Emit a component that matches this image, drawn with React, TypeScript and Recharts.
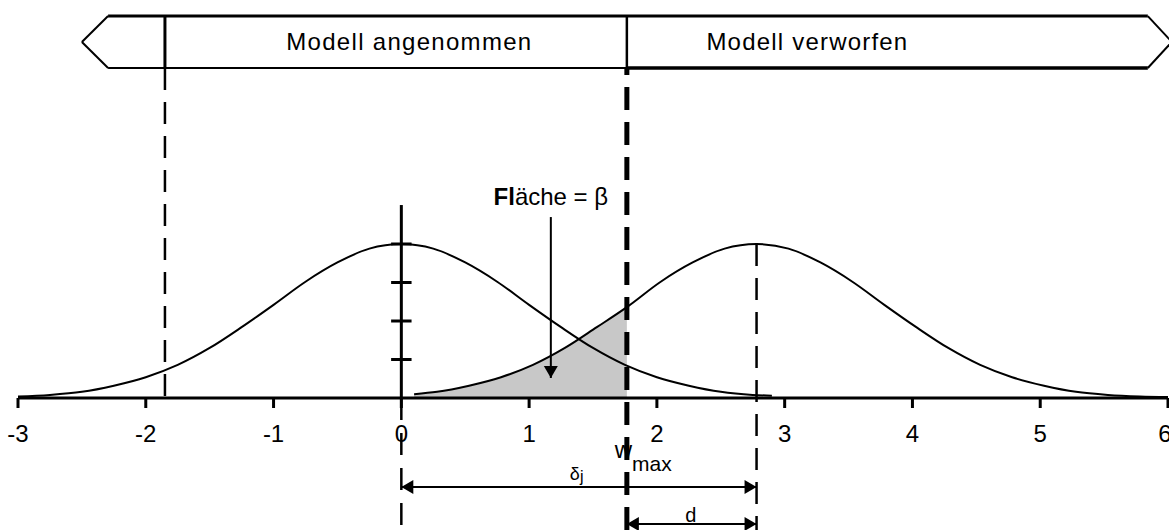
import { Area, ComposedChart, Line, ReferenceDot, ReferenceLine, XAxis, YAxis } from 'recharts'

const xTicks = [-3, -2, -1, 0, 1, 2, 3, 4, 5, 6]
const yTicks = [0.25, 0.5, 0.75, 1]

// density of the accepted model (centred on 0), peak scaled to 1
const leftX = [-3, -2.75, -2.5, -2.25, -2, -1.75, -1.5, -1.25, -1, -0.75, -0.5, -0.25, 0, 0.25, 0.5, 0.75, 1, 1.25, 1.5, 1.75, 2, 2.25, 2.5, 2.75, 2.9]
const leftY = [0.01, 0.02, 0.04, 0.08, 0.135, 0.215, 0.325, 0.46, 0.605, 0.755, 0.88, 0.97, 1, 0.97, 0.88, 0.755, 0.605, 0.46, 0.325, 0.215, 0.135, 0.08, 0.04, 0.02, 0.015]

// density of the alternative, shifted by delta_j
const rightX = [0.1, 0.28, 0.53, 0.78, 1.03, 1.28, 1.53, 1.765, 2.03, 2.28, 2.53, 2.78, 3.03, 3.28, 3.53, 3.78, 4.03, 4.28, 4.53, 4.78, 5.03, 5.28, 5.53, 5.78, 6]
const rightY = [0.025, 0.04, 0.08, 0.135, 0.215, 0.325, 0.46, 0.59, 0.755, 0.88, 0.97, 1, 0.97, 0.88, 0.755, 0.605, 0.46, 0.325, 0.215, 0.135, 0.08, 0.04, 0.02, 0.01, 0.006]

const lowerBound = -1.85
const wMax = 1.765
const deltaJ = 2.78

const leftCurve = leftX.map((x, i) => ({ x, y: leftY[i] }))
const rightCurve = rightX.map((x, i) => ({ x, y: rightY[i] }))
const betaArea = rightCurve.filter(p => p.x <= wMax)

const FONT = '"Liberation Sans", Arial, Helvetica, sans-serif'

// layout of the decision band and the annotations, in axis units
const bandTop = 2.48
const bandBottom = 2.143
const bandMid = 2.312
const bandTip = [-2.5, 6.03]
const bandShoulder = [-2.295, 5.842]
const yAxisTop = 1.253
const bottomEdge = -0.86
const deltaRow = -0.578
const dRow = -0.818

const arrowShape = (start: boolean, end: boolean) => (props: any) => {
  const { x1, y1, x2, y2 } = props
  const len = Math.hypot(x2 - x1, y2 - y1) || 1
  const ux = (x2 - x1) / len
  const uy = (y2 - y1) / len
  const head = (tx: number, ty: number, dx: number, dy: number) => {
    const bx = tx - dx * 12
    const by = ty - dy * 12
    const px = -dy * 7
    const py = dx * 7
    return <polygon points={`${tx},${ty} ${bx + px},${by + py} ${bx - px},${by - py}`} fill="#000" />
  }
  return (
    <g>
      <line x1={x1} y1={y1} x2={x2} y2={y2} stroke="#000" strokeWidth={2} />
      {start && head(x1, y1, -ux, -uy)}
      {end && head(x2, y2, ux, uy)}
    </g>
  )
}

const textShape = (content: React.ReactNode, size: number, anchor: string = 'middle', spacing = 0) => (props: any) => (
  <text
    x={props.cx}
    y={props.cy}
    fontSize={size}
    textAnchor={anchor}
    fontFamily={FONT}
    letterSpacing={spacing}
    fill="#000"
  >
    {content}
  </text>
)

const AxisTick = (props: any) => {
  const { x, y, payload } = props
  return (
    <text x={x} y={y} dy={34} textAnchor="middle" fontSize={24} fontFamily={FONT} fill="#000">
      {payload.value}
    </text>
  )
}

export default function App() {
  return (
    <div style={{ position: 'absolute', left: 0, top: 0, width: 1169, height: 530, background: '#fff' }}>
      <ComposedChart width={1169} height={530} margin={{ top: 13, right: 1, bottom: 102, left: 18 }}>
        <XAxis
          dataKey="x"
          type="number"
          domain={[-3, 6]}
          ticks={xTicks}
          allowDataOverflow
          height={30}
          tickSize={10}
          tickMargin={0}
          axisLine={{ stroke: '#000', strokeWidth: 3 }}
          tickLine={{ stroke: '#000', strokeWidth: 3 }}
          tick={<AxisTick />}
        />
        <YAxis type="number" domain={[0, 2.5]} allowDataOverflow hide />

        <Area
          data={betaArea}
          dataKey="y"
          type="monotone"
          fill="#c8c8c8"
          fillOpacity={1}
          stroke="none"
          isAnimationActive={false}
        />
        <Line data={leftCurve} dataKey="y" type="monotone" stroke="#000" strokeWidth={2} dot={false} activeDot={false} isAnimationActive={false} />
        <Line data={rightCurve} dataKey="y" type="monotone" stroke="#000" strokeWidth={2} dot={false} activeDot={false} isAnimationActive={false} />

        {/* y axis of the left density */}
        <ReferenceLine segment={[{ x: 0, y: 0 }, { x: 0, y: yAxisTop }]} stroke="#000" strokeWidth={3} ifOverflow="visible" />
        {yTicks.map(t => (
          <ReferenceLine key={t} segment={[{ x: -0.08, y: t }, { x: 0.08, y: t }]} stroke="#000" strokeWidth={3} ifOverflow="visible" />
        ))}
        <ReferenceLine segment={[{ x: 0, y: 0 }, { x: 0, y: bottomEdge }]} stroke="#000" strokeWidth={2.5} strokeDasharray="22 13" ifOverflow="visible" />

        {/* decision band */}
        <ReferenceLine segment={[{ x: bandShoulder[0], y: bandTop }, { x: bandShoulder[1], y: bandTop }]} stroke="#000" strokeWidth={3} ifOverflow="visible" />
        <ReferenceLine segment={[{ x: bandShoulder[0], y: bandBottom }, { x: wMax, y: bandBottom }]} stroke="#000" strokeWidth={2} ifOverflow="visible" />
        <ReferenceLine segment={[{ x: wMax, y: bandBottom }, { x: bandShoulder[1], y: bandBottom }]} stroke="#000" strokeWidth={3.5} ifOverflow="visible" />
        <ReferenceLine segment={[{ x: bandShoulder[0], y: bandTop }, { x: bandTip[0], y: bandMid }]} stroke="#000" strokeWidth={2} ifOverflow="visible" />
        <ReferenceLine segment={[{ x: bandTip[0], y: bandMid }, { x: bandShoulder[0], y: bandBottom }]} stroke="#000" strokeWidth={2} ifOverflow="visible" />
        <ReferenceLine segment={[{ x: bandShoulder[1], y: bandTop }, { x: bandTip[1], y: bandMid }]} stroke="#000" strokeWidth={2} ifOverflow="visible" />
        <ReferenceLine segment={[{ x: bandTip[1], y: bandMid }, { x: bandShoulder[1], y: bandBottom }]} stroke="#000" strokeWidth={2} ifOverflow="visible" />

        {/* lower bound */}
        <ReferenceLine segment={[{ x: lowerBound, y: bandTop }, { x: lowerBound, y: bandBottom }]} stroke="#000" strokeWidth={3} ifOverflow="visible" />
        <ReferenceLine segment={[{ x: lowerBound, y: bandBottom }, { x: lowerBound, y: 0 }]} stroke="#000" strokeWidth={2.5} strokeDasharray="22 12" ifOverflow="visible" />

        {/* w_max */}
        <ReferenceLine segment={[{ x: wMax, y: bandTop }, { x: wMax, y: bandBottom }]} stroke="#000" strokeWidth={2.5} ifOverflow="visible" />
        <ReferenceLine segment={[{ x: wMax, y: bandBottom }, { x: wMax, y: bottomEdge }]} stroke="#000" strokeWidth={5} strokeDasharray="23 12" strokeDashoffset={16} ifOverflow="visible" />

        {/* centre of the alternative */}
        <ReferenceLine segment={[{ x: deltaJ, y: 1 }, { x: deltaJ, y: bottomEdge }]} stroke="#000" strokeWidth={2.5} strokeDasharray="22 12" ifOverflow="visible" />

        {/* arrows */}
        <ReferenceLine segment={[{ x: 1.17, y: 1.175 }, { x: 1.17, y: 0.13 }]} shape={arrowShape(false, true)} ifOverflow="visible" />
        <ReferenceLine segment={[{ x: 0, y: deltaRow }, { x: deltaJ, y: deltaRow }]} shape={arrowShape(true, true)} ifOverflow="visible" />
        <ReferenceLine segment={[{ x: wMax, y: dRow }, { x: deltaJ, y: dRow }]} shape={arrowShape(true, true)} ifOverflow="visible" />

        {/* labels */}
        <ReferenceDot x={0.063} y={2.26} r={0} ifOverflow="visible" shape={textShape('Modell angenommen', 24, 'middle', 1.3)} />
        <ReferenceDot x={3.178} y={2.26} r={0} ifOverflow="visible" shape={textShape('Modell verworfen', 24, 'middle', 1.2)} />
        <ReferenceDot
          x={1.17}
          y={1.253}
          r={0}
          ifOverflow="visible"
          shape={textShape(
            <>
              <tspan fontWeight="bold">Fl</tspan>
              <tspan>äche = β</tspan>
            </>,
            24,
          )}
        />
        <ReferenceDot
          x={1.67}
          y={-0.39}
          r={0}
          ifOverflow="visible"
          shape={textShape(
            <>
              <tspan>w</tspan>
              <tspan fontSize={21} dy={13}>max</tspan>
            </>,
            24,
            'start',
          )}
        />
        <ReferenceDot
          x={1.319}
          y={-0.532}
          r={0}
          ifOverflow="visible"
          shape={textShape(
            <>
              <tspan>δ</tspan>
              <tspan fontSize={16} dy={2}>j</tspan>
            </>,
            18,
            'start',
          )}
        />
        <ReferenceDot x={2.266} y={-0.805} r={0} ifOverflow="visible" shape={textShape('d', 20)} />
      </ComposedChart>
    </div>
  )
}
